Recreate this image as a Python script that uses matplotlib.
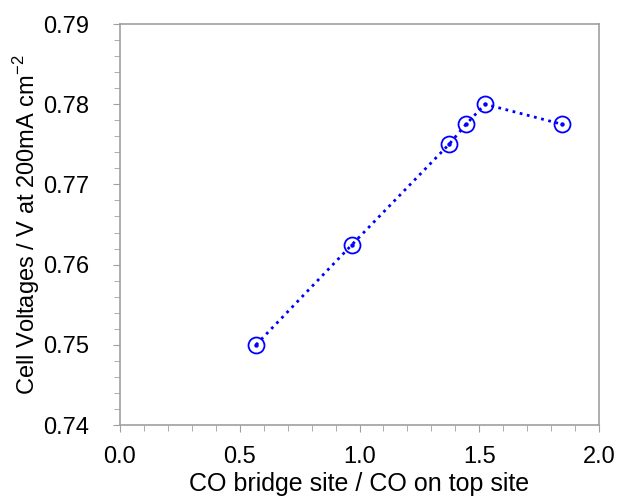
import matplotlib
matplotlib.use("Agg")
import matplotlib.pyplot as plt
from matplotlib.ticker import MultipleLocator

plt.rcParams['font.family'] = ['Liberation Sans', 'DejaVu Sans']
plt.rcParams['mathtext.fontset'] = 'custom'
plt.rcParams['mathtext.rm'] = 'Liberation Sans'

# CO bridge / CO top ratio vs cell voltage
ratio = [0.568, 0.969, 1.374, 1.445, 1.524, 1.846]
voltage = [0.750, 0.7625, 0.775, 0.7775, 0.780, 0.7775]

fig = plt.figure(figsize=(6.22, 4.98), dpi=100)
ax = fig.add_axes([120/622, 73/498, 479/622, 401/498])

ax.plot(ratio, voltage, linestyle=':', color='#0000ff', linewidth=2,
        marker='o', markersize=11.5, markerfacecolor='none',
        markeredgecolor='#0000ff', markeredgewidth=1.3)
ax.plot(ratio, voltage, linestyle='none', marker='o', markersize=2.2,
        color='#0000ff')

ax.set_xlim(0, 2.0)
ax.set_ylim(0.74, 0.79)
ax.xaxis.set_major_locator(MultipleLocator(0.5))
ax.xaxis.set_minor_locator(MultipleLocator(0.1))
ax.yaxis.set_major_locator(MultipleLocator(0.01))
ax.yaxis.set_minor_locator(MultipleLocator(0.002))
ax.xaxis.set_major_formatter(plt.FormatStrFormatter('%.1f'))
ax.yaxis.set_major_formatter(plt.FormatStrFormatter('%.2f'))

for s in ax.spines.values():
    s.set_color('#a0a0a0')
    s.set_linewidth(1.2)
ax.tick_params(which='both', direction='out', color='#a0a0a0', labelsize=17,
               top=False, right=False)
ax.tick_params(which='major', length=5)
ax.tick_params(which='minor', length=4)
ax.tick_params(axis='x', which='major', pad=10)
ax.tick_params(axis='y', which='major', pad=17)

ax.set_xlabel('CO bridge site / CO on top site', fontsize=18, labelpad=3)
ax.set_ylabel('Cell Voltages / V at 200mA cm$^{-2}$', fontsize=17)
ax.yaxis.set_label_coords(-0.163, 0.5)

fig.savefig('out.png', dpi=100)
